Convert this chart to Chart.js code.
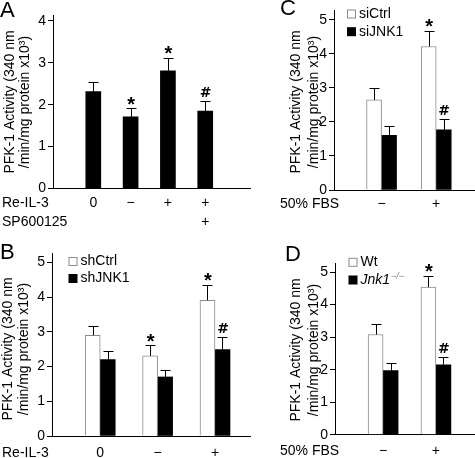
<!DOCTYPE html>
<html><head><meta charset="utf-8">
<script src="https://cdn.jsdelivr.net/npm/chart.js@4/dist/chart.umd.min.js"></script>
<style>
html,body{margin:0;padding:0;background:#fff;}
#wrap{position:relative;width:475px;height:458px;overflow:hidden;background:#fff}
canvas{position:absolute;left:0;top:0}
</style></head><body><div id="wrap">
<canvas id="cA" width="475" height="458"></canvas>
<canvas id="cB" width="475" height="458"></canvas>
<canvas id="cC" width="475" height="458"></canvas>
<canvas id="cD" width="475" height="458"></canvas>
</div>
<script>
// ---------- DATA ----------
const yTitle1 = 'PFK-1 Activity (340 nm';
const yTitle2 = '/min/mg protein x10\u00B3)';
// Panel A
const aReIL3 = ['0', '\u2212', '+', '+'];
const aSP600125 = ['', '', '', '+'];
const aMean = [2.31, 1.71, 2.81, 1.85];
const aErr = [0.22, 0.20, 0.31, 0.24];
const aMark = ['', '*', '*', '#'];
const aTicks = [0, 1, 2, 3, 4];
// Panel B
const bReIL3 = ['0', '\u2212', '+'];
const bNames = ['shCtrl', 'shJNK1'];
const bCtrlMean = [2.90, 2.31, 3.91];
const bCtrlErr = [0.26, 0.30, 0.44];
const bCtrlMark = ['', '*', '*'];
const bJnkMean = [2.20, 1.70, 2.49];
const bJnkErr = [0.24, 0.21, 0.37];
const bJnkMark = ['', '', '#'];
// Panel C
const cFBS = ['\u2212', '+'];
const cNames = ['siCtrl', 'siJNK1'];
const cCtrlMean = [2.65, 4.22];
const cCtrlErr = [0.34, 0.46];
const cCtrlMark = ['', '*'];
const cJnkMean = [1.61, 1.77];
const cJnkErr = [0.26, 0.33];
const cJnkMark = ['', '#'];
// Panel D
const dFBS = ['\u2212', '+'];
const dNames = ['Wt', 'Jnk1'];
const dKoSuffix = '\u2212/\u2212';
const dWtMean = [3.08, 4.54];
const dWtErr = [0.31, 0.34];
const dWtMark = ['', '*'];
const dKoMean = [1.97, 2.15];
const dKoErr = [0.23, 0.25];
const dKoMark = ['', '#'];
const bcdTicks = [0, 1, 2, 3, 4, 5];

// ---------- STYLE / LAYOUT ----------
const FONT = '"Liberation Sans", Arial, sans-serif';
Chart.defaults.font.family = FONT;
Chart.defaults.color = '#000';
const WHITE = {fill: '#ffffff', stroke: '#8a8a8a', bw: 1};
const BLACK = {fill: '#000000', stroke: '#000000', bw: 0};
const YW = 30;

function series(mean, err, marks, style, name) {
  return {
    label: name,
    data: mean.map((v, i) => ({x: i, y: v})),
    backgroundColor: style.fill,
    borderColor: style.stroke,
    borderWidth: style.bw,
    barThickness: 15,
    errors: err,
    marks: marks
  };
}

function deco(p) {
  return {
    id: 'deco',
    afterDatasetsDraw(chart) {
      const ctx = chart.ctx, ys = chart.scales.y;
      ctx.save();
      ctx.strokeStyle = '#000'; ctx.lineWidth = 1; ctx.fillStyle = '#000';
      chart.data.datasets.forEach((ds, di) => {
        const meta = chart.getDatasetMeta(di);
        meta.data.forEach((el, j) => {
          const top = ys.getPixelForValue(ds.data[j].y + ds.errors[j]);
          const x = Math.round(el.x) + 0.5;
          const yt = Math.round(top) + 0.5;
          ctx.beginPath();
          ctx.moveTo(x, el.y); ctx.lineTo(x, yt);
          ctx.moveTo(x - 5, yt); ctx.lineTo(x + 5, yt);
          ctx.stroke();
          const m = ds.marks[j];
          ctx.textAlign = 'center'; ctx.textBaseline = 'alphabetic';
          if (m === '*') { ctx.font = 'bold 20px ' + FONT; ctx.fillText('*', el.x + 0.5, top + 2.5); }
          else if (m === '#') { ctx.font = 'bold 14px "DejaVu Sans", sans-serif'; ctx.fillText('#', el.x + 0.5, top - 4); }
        });
      });
      ctx.restore();
    },
    afterDraw(chart) {
      const ctx = chart.ctx, xs = chart.scales.x;
      ctx.save();
      ctx.fillStyle = '#000';
      // panel letter
      ctx.font = '22px ' + FONT; ctx.textAlign = 'left'; ctx.textBaseline = 'alphabetic';
      ctx.fillText(p.letter, p.letterPos[0], p.letterPos[1]);
      // y title
      ctx.font = '14px ' + FONT; ctx.textAlign = 'center'; ctx.textBaseline = 'middle';
      [[yTitle1, p.title[0]], [yTitle2, p.title[1]]].forEach(([t, x]) => {
        ctx.save(); ctx.translate(x, p.title[2]); ctx.rotate(-Math.PI / 2); ctx.fillText(t, 0, 0); ctx.restore();
      });
      // row labels
      p.rows.forEach(r => {
        ctx.textAlign = 'left'; ctx.fillText(r.name, r.x, r.y);
        ctx.textAlign = 'center';
        r.labels.forEach((l, i) => { if (l) ctx.fillText(l, xs.getPixelForValue(i), r.y); });
      });
      // legend
      if (p.legend) {
        const [lx, y1, y2] = p.legend;
        chart.data.datasets.forEach((ds, di) => {
          const yy = di === 0 ? y1 : y2;
          ctx.fillStyle = ds.backgroundColor;
          ctx.fillRect(lx, yy - 4.5, 9, 9);
          if (ds.borderWidth) { ctx.strokeStyle = ds.borderColor; ctx.lineWidth = 1; ctx.strokeRect(lx + 0.5, yy - 4, 8, 8); }
          ctx.fillStyle = '#000'; ctx.textAlign = 'left'; ctx.textBaseline = 'middle';
          if (p.italicSecond && di === 1) {
            ctx.font = 'italic 14px ' + FONT;
            ctx.fillText(ds.label, lx + 12, yy);
            const w = ctx.measureText(ds.label).width;
            ctx.font = 'italic 9px ' + FONT; ctx.fillStyle = '#777';
            ctx.fillText(p.suffix, lx + 13 + w, yy - 4);
          } else {
            ctx.font = '14px ' + FONT;
            ctx.fillText(ds.label, lx + 12, yy);
          }
        });
      }
      ctx.restore();
    }
  };
}

function make(id, p) {
  const [L, T, R, B] = p.area;
  new Chart(document.getElementById(id), {
    type: 'bar',
    data: {datasets: p.datasets},
    options: {
      responsive: false, animation: false, devicePixelRatio: 1,
      layout: {padding: {left: L - YW, top: T, right: 475 - R, bottom: 458 - B}},
      plugins: {legend: {display: false}, tooltip: {enabled: false}},
      scales: {
        x: {
          type: 'linear', min: p.xmin, max: p.xmax, offset: false,
          grid: {display: false}, ticks: {display: false},
          border: {display: true, color: '#000', width: 1},
          afterFit(s) { s.height = 0; }
        },
        y: {
          type: 'linear', min: 0, max: p.ymax,
          afterBuildTicks(s) { s.ticks = p.ticks.map(v => ({value: v})); },
          ticks: {font: {size: 14}, color: '#000', padding: 2},
          grid: {display: true, drawOnChartArea: false, drawTicks: true, tickLength: 5, color: '#000'},
          border: {display: true, color: '#000', width: 1},
          afterFit(s) { s.width = YW; }
        }
      }
    },
    plugins: [deco(p)]
  });
}

make('cA', {
  letter: 'A', letterPos: [0, 17], title: [10, 25, 102],
  area: [53, 15, 250, 188.5], ymax: 4.14, xmin: -1.08, xmax: 4.2, ticks: aTicks,
  datasets: [series(aMean, aErr, aMark, BLACK, 'Re-IL-3')],
  rows: [{name: 'Re-IL-3', labels: aReIL3, x: 2, y: 203}, {name: 'SP600125', labels: aSP600125, x: 2, y: 222}],
  legend: null
});
make('cB', {
  letter: 'B', letterPos: [0, 259], title: [8, 24, 349],
  area: [52, 253, 250, 436], ymax: 5.27, xmin: -0.84, xmax: 2.61, ticks: bcdTicks,
  datasets: [series(bCtrlMean, bCtrlErr, bCtrlMark, WHITE, bNames[0]), series(bJnkMean, bJnkErr, bJnkMark, BLACK, bNames[1])],
  rows: [{name: 'Re-IL-3', labels: bReIL3, x: 2, y: 453}],
  legend: [68.5, 261.5, 278.5]
});
make('cC', {
  letter: 'C', letterPos: [280, 15], title: [296, 314, 102],
  area: [334, 9.3, 475, 190], ymax: 5.28, xmin: -0.87, xmax: 1.71, ticks: bcdTicks,
  datasets: [series(cCtrlMean, cCtrlErr, cCtrlMark, WHITE, cNames[0]), series(cJnkMean, cJnkErr, cJnkMark, BLACK, cNames[1])],
  rows: [{name: '50% FBS', labels: cFBS, x: 280, y: 204}],
  legend: [347, 14, 31.7]
});
make('cD', {
  letter: 'D', letterPos: [285, 261], title: [296, 314, 350],
  area: [335, 263.3, 475, 434.7], ymax: 5.27, xmin: -0.91, xmax: 1.74, ticks: bcdTicks,
  datasets: [series(dWtMean, dWtErr, dWtMark, WHITE, dNames[0]), series(dKoMean, dKoErr, dKoMark, BLACK, dNames[1])],
  rows: [{name: '50% FBS', labels: dFBS, x: 280, y: 451}],
  legend: [348.5, 262.3, 280], italicSecond: true, suffix: dKoSuffix
});
</script>
</body></html>
